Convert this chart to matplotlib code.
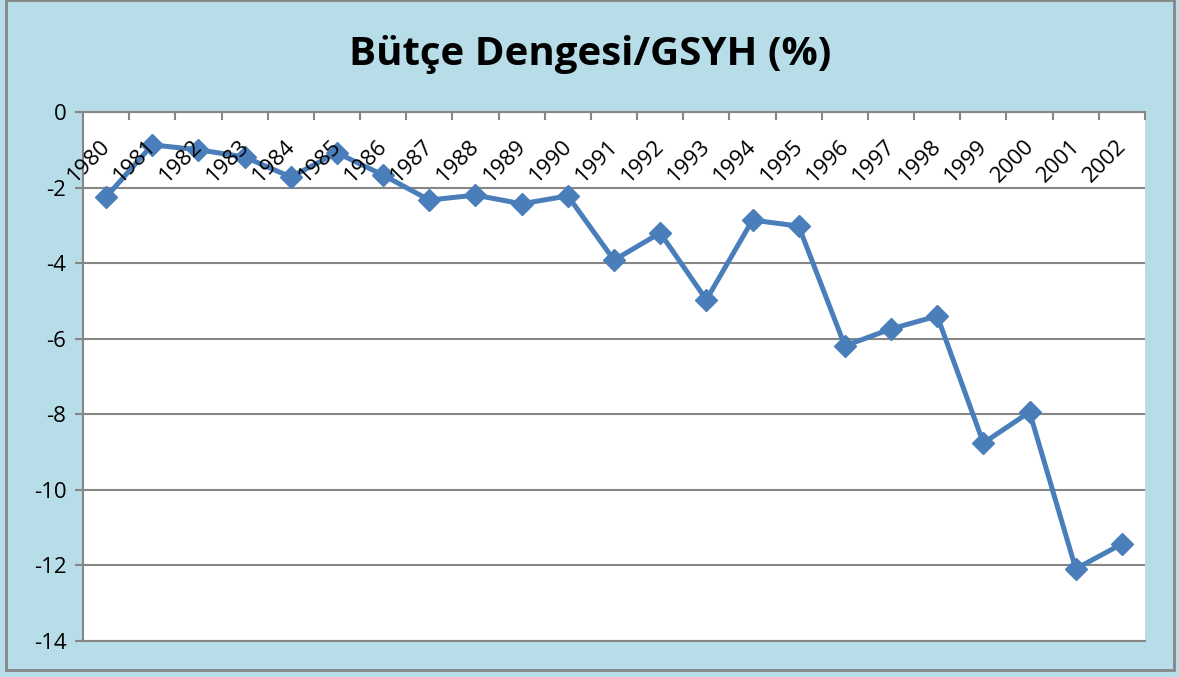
import numpy as np
import matplotlib.pyplot as plt
from matplotlib.patches import Rectangle
from matplotlib.transforms import offset_copy

years = ["1980", "1981", "1982", "1983", "1984", "1985", "1986", "1987", "1988",
         "1989", "1990", "1991", "1992", "1993", "1994", "1995", "1996", "1997",
         "1998", "1999", "2000", "2001", "2002"]
balance = [-2.25, -0.87, -1.0, -1.19, -1.72, -1.08, -1.67, -2.33, -2.2, -2.43,
           -2.22, -3.92, -3.2, -4.97, -2.86, -3.02, -6.19, -5.74, -5.4, -8.76,
           -7.94, -12.09, -11.43]

plt.rcParams['font.family'] = ['Open Sans', 'DejaVu Sans']

bg = "#b7dde8"
grid = "#868686"
line = "#4a7ebb"

fig = plt.figure(figsize=(11.79, 6.77), dpi=100)
fig.patch.set_facecolor(bg)
fig.patches.append(Rectangle((6 / 1179, 7 / 677), 1168 / 1179, 670 / 677,
                             transform=fig.transFigure, fill=False,
                             edgecolor=grid, linewidth=2))

ax = fig.add_axes([83 / 1179, 1 - 641 / 677, 1062 / 1179, 529 / 677])
ax.set_facecolor("white")

x = np.arange(len(years))
ax.plot(x, balance, color=line, linewidth=3.6, marker="D", markersize=11,
        markeredgecolor=line, zorder=3)

ax.set_xlim(-0.5, len(years) - 0.5)
ax.set_ylim(-14, 0)
ax.set_yticks(np.arange(-14, 1, 2))
ax.set_yticklabels([str(v) for v in range(-14, 1, 2)], fontsize=16)
ax.yaxis.grid(True, color=grid, linewidth=1.5)
ax.set_axisbelow(True)
ax.tick_params(axis="y", length=6, width=1.5, color=grid, pad=6)

# category boundaries as tick marks on the zero line
ax.xaxis.tick_top()
ax.set_xticks(np.arange(-0.5, len(years), 1))
ax.set_xticklabels([])
ax.tick_params(axis="x", direction="in", length=6, width=1.5, color=grid)

for s in ["left", "top", "bottom"]:
    ax.spines[s].set_color(grid)
    ax.spines[s].set_linewidth(1.5)
ax.spines["right"].set_visible(False)

for i, yr in enumerate(years):
    tr = offset_copy(ax.transData, fig=fig, x=1, y=-31, units="dots")
    ax.text(i, 0, yr, transform=tr, rotation=45, rotation_mode="anchor",
            ha="right", va="center", fontsize=16)

fig.text(590 / 1179, 1 - 54 / 677, "Bütçe Dengesi/GSYH (%)", ha="center",
         va="center", fontsize=29, fontweight="bold")

fig.savefig("out.png", dpi=100, facecolor=bg)
